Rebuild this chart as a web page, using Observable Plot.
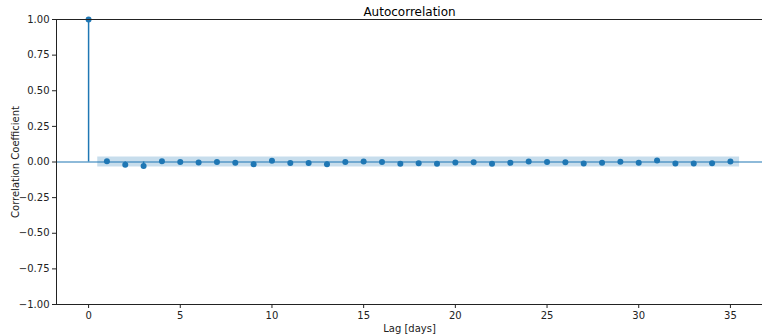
<!DOCTYPE html>
<html>
<head>
<meta charset="utf-8">
<script src="https://cdn.jsdelivr.net/npm/d3@7"></script>
<script src="https://cdn.jsdelivr.net/npm/@observablehq/plot@0.6"></script>
<style>
  html, body { margin: 0; padding: 0; background: #fff; }
  #chart svg { display: block; }
</style>
</head>
<body>
<div id="chart"></div>
<script>
// Sample autocorrelation of the daily series, lags 0–35
const lags = d3.range(0, 36);
const acf = [
  1.000, 0.005, -0.019, -0.028, 0.006, 0.000, -0.003, 0.000, -0.005, -0.015,
  0.008, -0.007, -0.007, -0.015, 0.000, 0.004, 0.000, -0.012, -0.008, -0.012,
  -0.004, -0.002, -0.012, -0.006, 0.003, 0.000, -0.002, -0.010, -0.005, 0.002,
  -0.005, 0.010, -0.010, -0.010, -0.008, 0.003
];
// 95% confidence half-width and the lag span it covers
const confHalfWidth = 0.035;
const confSpan = [0.5, 35.5];

const xTicks = [0, 5, 10, 15, 20, 25, 30, 35];
const yTicks = [-1, -0.75, -0.5, -0.25, 0, 0.25, 0.5, 0.75, 1];

const points = lags.map((lag, i) => ({lag, value: acf[i]}));
const blue = "#1f77b4";
const ink = "#222";
const fmt = d => d.toFixed(2).replace("-", "\u2212");

const chart = Plot.plot({
  width: 762,
  height: 336,
  marginLeft: 56,
  marginRight: 0,
  marginTop: 19,
  marginBottom: 32,
  style: {fontFamily: "DejaVu Sans", fontSize: "10px", color: ink, background: "#fff"},
  x: {domain: [-1.75, 36.75]},
  y: {domain: [-1, 1]},
  marks: [
    Plot.rect([{x1: confSpan[0], x2: confSpan[1], y1: -confHalfWidth, y2: confHalfWidth}],
      {x1: "x1", x2: "x2", y1: "y1", y2: "y2", fill: blue, fillOpacity: 0.25}),
    Plot.ruleY([0], {stroke: blue, strokeWidth: 1.2}),
    Plot.ruleX(points, {x: "lag", y1: 0, y2: "value", stroke: blue, strokeWidth: 1.5}),
    Plot.dot(points, {x: "lag", y: "value", r: 3, fill: blue, stroke: "none"}),
    Plot.axisX({ticks: xTicks, tickSize: 4, tickPadding: 3, tickFormat: d => String(d),
      label: "Lag [days]", labelAnchor: "center", labelArrow: "none", labelOffset: 27}),
    Plot.axisY({ticks: yTicks, tickSize: 4, tickPadding: 3, tickFormat: fmt,
      label: "Correlation Coefficient", labelAnchor: "center", labelArrow: "none", labelOffset: 45}),
    Plot.frame({anchor: "left", stroke: ink}),
    Plot.frame({anchor: "bottom", stroke: ink}),
    Plot.frame({anchor: "top", stroke: ink}),
    Plot.text(["Autocorrelation"], {frameAnchor: "top", lineAnchor: "bottom", dy: -4, fontSize: 12, fill: "#000"})
  ]
});
document.getElementById("chart").appendChild(chart);
</script>
</body>
</html>
